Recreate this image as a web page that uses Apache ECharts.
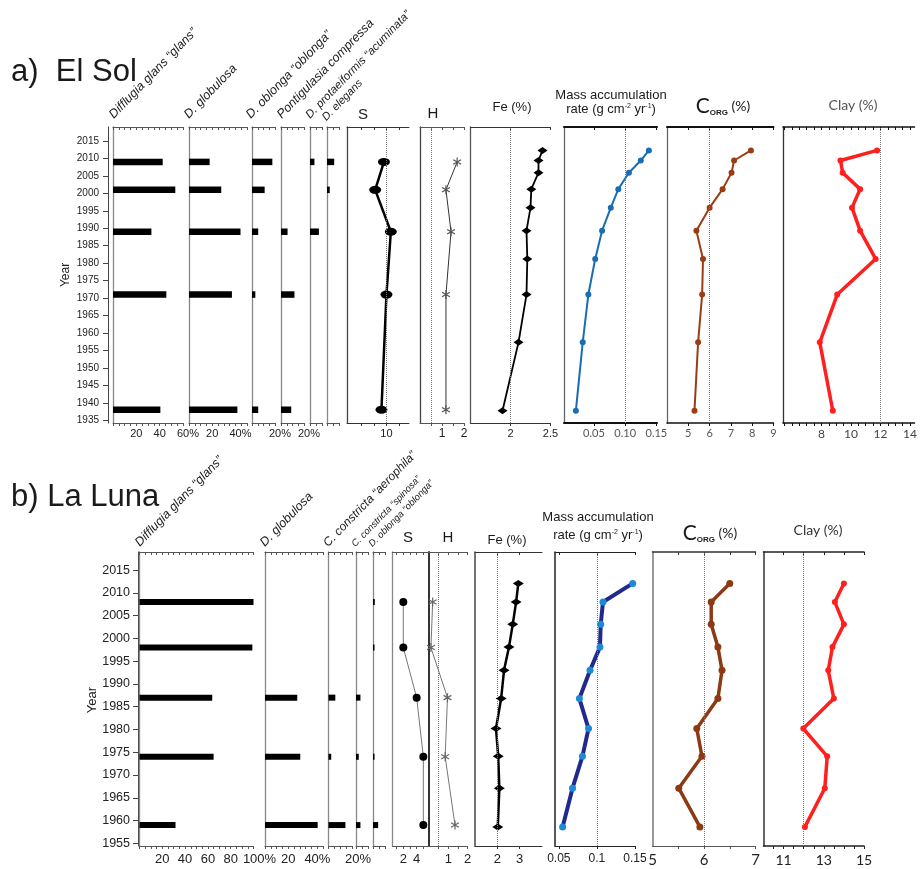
<!DOCTYPE html>
<html><head><meta charset="utf-8">
<script src="https://cdn.jsdelivr.net/npm/echarts@6/dist/echarts.min.js"></script>
<style>html,body{margin:0;padding:0;background:#fff}#c{width:920px;height:869px}</style>
</head><body><div id="c"></div><script>
// ================= DATA =================
// --- a) El Sol : testate amoebae (% abundance) ---
const solTaxaYears       = [2009, 2001, 1989, 1971, 1938];
const solDifflugiaGlans  = [42.6, 53.4, 32.9, 45.7, 40.6];
const solDGlobulosa      = [17.8, 27.8, 44.4, 37.0, 41.7];
const solDOblonga        = [17.7, 11.0, 5.4, 2.9, 5.4];
const solPontigulasia    = [0, 0, 5.7, 11.7, 8.9];
const solDProtaeiformis  = [3.7, 0, 7.4, 0, 0];
const solDElegans        = [6.0, 2.3, 0, 0, 0];
const solS               = [9.6, 8.2, 10.7, 10.0, 9.2];
const solH               = [1.69, 1.18, 1.41, 1.18, 1.18];
// --- a) El Sol : sediment geochemistry ---
const solCoreYears = [2012.3, 2009.4, 2005.9, 2001.2, 1995.9, 1989.3, 1981.2, 1971.0, 1957.3, 1937.7];
const solFe        = [2.40, 2.35, 2.35, 2.26, 2.25, 2.20, 2.21, 2.20, 2.10, 1.90];
const solMar       = [0.138, 0.125, 0.106, 0.089, 0.077, 0.063, 0.052, 0.041, 0.032, 0.021];
const solCorg      = [7.94, 7.15, 7.03, 6.61, 6.00, 5.38, 5.69, 5.65, 5.46, 5.29];
const solClay      = [11.77, 9.29, 9.44, 10.62, 10.07, 10.62, 11.67, 9.07, 7.89, 8.77];

// --- b) La Luna : testate amoebae ---
const lunaTaxaYears      = [2008, 1998, 1987, 1974, 1959];
const lunaDifflugiaGlans = [100, 99, 63.8, 65.0, 31.6];
const lunaDGlobulosa     = [0, 0, 27.8, 30.4, 45.4];
const lunaCAerophila     = [0, 0, 5.8, 2.3, 14.4];
const lunaCSpinosa       = [0, 0, 3.7, 2.3, 3.7];
const lunaDOblonga       = [1.5, 0.8, 0, 1.0, 4.3];
const lunaS              = [2, 2, 4, 5, 5];
const lunaH              = [0.19, 0.10, 0.96, 0.84, 1.35];
// --- b) La Luna : sediment geochemistry ---
const lunaCoreYears = [2012.1, 2008.0, 2003.1, 1998.1, 1993.0, 1986.8, 1980.2, 1974.1, 1967.1, 1958.6];
const lunaFe        = [2.94, 2.84, 2.69, 2.52, 2.30, 2.17, 1.94, 2.04, 2.09, 2.02];
const lunaMar       = [0.147, 0.108, 0.105, 0.104, 0.091, 0.077, 0.089, 0.081, 0.068, 0.055];
const lunaCorg      = [6.50, 6.14, 6.14, 6.27, 6.35, 6.27, 5.86, 5.96, 5.51, 5.92];
const lunaClay      = [14.0, 13.55, 14.0, 13.43, 13.22, 13.5, 11.98, 13.17, 13.05, 12.06];

// --- tick labels ---
const solYearLabels  = ['1935','1940','1945','1950','1955','1960','1965','1970','1975','1980','1985','1990','1995','2000','2005','2010','2015'];
const lunaYearLabels = ['1955','1960','1965','1970','1975','1980','1985','1990','1995','2000','2005','2010','2015'];
const solDifflugiaLabels = ['20','40','60%'];
const solGlobulosaLabels = ['20','40%'];
const solOblongaLabels   = ['20%'];
const solPontiLabels     = ['20%'];
const solSLabels   = ['10'];
const solHLabels   = ['1','2'];
const solFeLabels  = ['2','2.5'];
const solMarLabels = ['0.05','0.10','0.15'];
const solCorgLabels= ['5','6','7','8','9'];
const solClayLabels= ['8','10','12','14'];
const lunaDifflugiaLabels = ['20','40','60','80','100%'];
const lunaGlobulosaLabels = ['20','40%'];
const lunaAerophilaLabels = ['20%'];
const lunaSLabels   = ['2','4'];
const lunaHLabels   = ['1','2'];
const lunaFeLabels  = ['2','3'];
const lunaMarLabels = ['0.05','0.1','0.15'];
const lunaCorgLabels= ['5','6','7'];
const lunaClayLabels= ['11','13','15'];

// ================= BUILD =================
const FONT = "'Liberation Sans', Arial, sans-serif";
const CAL = "Lato, 'Open Sans', sans-serif";
const grids = [], xAxes = [], yAxes = [], series = [], graphics = [];

function range(a, b, s) { const r = []; for (let v = a; v <= b + 1e-9; v += s) r.push(+v.toFixed(6)); return r; }
function labelMap(labels) { const m = {}; labels.forEach(t => { m[Math.round(parseFloat(t) * 1e4)] = t; }); return m; }

function addYearAxis(c) {
  const gi = grids.length;
  grids.push({ left: c.left, top: c.top, width: 1, height: c.height });
  xAxes.push({ gridIndex: gi, type: 'value', show: false, min: 0, max: 1 });
  const vals = c.labels.map(Number);
  yAxes.push({ gridIndex: gi, type: 'value', position: 'left', min: c.ymin, max: c.ymax,
    axisLine: { show: true, onZero: false, lineStyle: { color: '#444', width: 1 } },
    axisTick: { show: true, customValues: vals, length: c.tickLen, lineStyle: { color: '#444' } },
    axisLabel: { show: true, customValues: vals, formatter: v => String(Math.round(v)), fontSize: c.fontSize, color: '#222', fontFamily: FONT, margin: c.margin, showMinLabel: true, showMaxLabel: true, hideOverlap: false },
    splitLine: { show: false } });
}

function addPanel(c) {
  const gi = grids.length;
  grids.push({ left: c.left, top: c.top, width: c.width, height: c.height });
  const labels = (c.labels || []).filter(t => t.indexOf('%') < 0);
  const pctLabels = (c.labels || []).filter(t => t.indexOf('%') >= 0);
  const lm = labelMap(labels);
  const ticks = c.ticks || [];
  const topTicks = c.topTicks || ticks;
  const fs = c.fontSize || 11, ff = c.labelFont || FONT, col = c.labelColor || '#222';
  xAxes.push({ gridIndex: gi, type: 'value', position: 'bottom', min: c.min, max: c.max,
    axisLine: { show: true, onZero: false, lineStyle: { color: c.bottomColor || '#555', width: c.bottomWidth || 1 } },
    axisTick: { show: ticks.length > 0, customValues: ticks, length: c.tickLen || 3, inside: false, lineStyle: { color: c.bottomColor || '#555' } },
    axisLabel: { show: labels.length > 0, customValues: labels.map(t => parseFloat(t)),
      formatter: v => lm[Math.round(v * 1e4)] || '', fontSize: fs, color: col,
      fontFamily: ff, margin: c.labelMargin || 5, hideOverlap: false, showMinLabel: true, showMaxLabel: true },
    splitLine: { show: false } });
  const xi = xAxes.length - 1;
  if (pctLabels.length) {
    // percent labels: the number is centred on its tick, the "%" trails
    const pm = labelMap(pctLabels);
    xAxes.push({ gridIndex: gi, type: 'value', position: 'bottom', min: c.min, max: c.max,
      axisLine: { show: false }, axisTick: { show: false }, splitLine: { show: false },
      axisLabel: { show: true, customValues: pctLabels.map(t => parseFloat(t)),
        formatter: v => '{p|' + (pm[Math.round(v * 1e4)] || '') + '}',
        rich: { p: { fontSize: fs, fontFamily: ff, color: col, padding: [0, 0, 0, Math.round(fs * 0.89)] } },
        margin: c.labelMargin || 5, showMinLabel: true, showMaxLabel: true } });
  }
  xAxes.push({ gridIndex: gi, type: 'value', position: 'top', min: c.min, max: c.max,
    axisLine: { show: true, onZero: false, lineStyle: { color: c.topColor || '#555', width: c.topWidth || 1 } },
    axisTick: { show: topTicks.length > 0, customValues: topTicks, inside: true, length: c.topTickLen || 3, lineStyle: { color: c.topColor || '#555' } },
    axisLabel: { show: false }, splitLine: { show: false } });
  yAxes.push({ gridIndex: gi, type: 'value', position: 'left', min: c.ymin, max: c.ymax,
    axisLine: { show: true, onZero: false, lineStyle: { color: c.leftColor || '#888', width: c.leftWidth || 1.3 } },
    axisTick: { show: false }, axisLabel: { show: false }, splitLine: { show: false } });
  return { xi, yi: yAxes.length - 1 };
}

function addBars(p, years, vals, h) {
  series.push({ type: 'custom', xAxisIndex: p.xi, yAxisIndex: p.yi, silent: true,
    data: years.map((y, i) => [vals[i], y]), encode: { x: 0, y: 1 },
    renderItem: (params, api) => {
      const v = api.value(0), y = api.value(1);
      if (!v) return;
      const a = api.coord([0, y]), b = api.coord([v, y]);
      return { type: 'rect', shape: { x: a[0], y: a[1] - h / 2, width: Math.max(b[0] - a[0], 1.5), height: h }, style: { fill: '#000' } };
    } });
}

function addLine(p, years, vals, st) {
  const s = { type: 'line', xAxisIndex: p.xi, yAxisIndex: p.yi, silent: true,
    data: years.map((y, i) => [vals[i], y]),
    symbol: st.symbol, symbolSize: st.size, symbolKeepAspect: !!st.keep, showSymbol: true,
    lineStyle: { color: st.line, width: st.width },
    itemStyle: { color: st.fill, borderColor: st.border || st.fill, borderWidth: st.borderWidth || 0 },
    z: 3 };
  if (st.ref != null) s.markLine = { silent: true, symbol: 'none', label: { show: false },
    lineStyle: { type: 'dotted', color: '#777', width: 1 }, data: [{ xAxis: st.ref }] };
  series.push(s);
}

const ELLIPSE = 'path://M0,5a5,5 0 1,0 10,0a5,5 0 1,0 -10,0Z';
const ASTER = 'path://M5,0L5,10M0.67,2.5L9.33,7.5M0.67,7.5L9.33,2.5';

// ---------- El Sol ----------
const SOL = { top: 127, height: 296, ymin: 1934.2, ymax: 2019 };
addYearAxis({ left: 108, top: SOL.top, height: SOL.height, ymin: SOL.ymin, ymax: SOL.ymax, labels: solYearLabels, fontSize: 10, margin: 9, tickLen: 5 });
const sb1 = addPanel({ ...SOL, left: 113, width: 70, min: 0, max: 60, labels: solDifflugiaLabels, ticks: range(0, 60, 5) });
const sb2 = addPanel({ ...SOL, left: 189, width: 58, min: 0, max: 50, labels: solGlobulosaLabels, ticks: range(0, 50, 5) });
const sb3 = addPanel({ ...SOL, left: 252, width: 23, min: 0, max: 20, labels: solOblongaLabels, ticks: range(0, 20, 5) });
const sb4 = addPanel({ ...SOL, left: 281, width: 23, min: 0, max: 20, labels: solPontiLabels, ticks: range(0, 20, 5) });
const sb5 = addPanel({ ...SOL, left: 310, width: 12, min: 0, max: 10, ticks: range(0, 10, 5) });
const sb6 = addPanel({ ...SOL, left: 327, width: 12, min: 0, max: 10, ticks: range(0, 10, 5) });
addBars(sb1, solTaxaYears, solDifflugiaGlans, 6.5);
addBars(sb2, solTaxaYears, solDGlobulosa, 6.5);
addBars(sb3, solTaxaYears, solDOblonga, 6.5);
addBars(sb4, solTaxaYears, solPontigulasia, 6.5);
addBars(sb5, solTaxaYears, solDProtaeiformis, 6.5);
addBars(sb6, solTaxaYears, solDElegans, 6.5);
const sS = addPanel({ ...SOL, left: 347, width: 62, min: 3.7, max: 13.6, labels: solSLabels, ticks: [6, 8, 10, 12], leftColor: '#444', topColor: '#333', bottomColor: '#333' });
addLine(sS, solTaxaYears, solS, { symbol: ELLIPSE, size: [12, 8], line: '#000', width: 2.5, fill: '#000', ref: 10 });
const sH = addPanel({ ...SOL, left: 420, width: 44, min: 0, max: 2, labels: solHLabels, ticks: [0.5, 1, 1.5, 2], leftColor: '#444', fontSize: 12 });
addLine(sH, solTaxaYears, solH, { symbol: ASTER, size: 9, keep: true, line: '#333', width: 1, fill: 'transparent', border: '#555', borderWidth: 1.2, ref: 0.5 });
const sFe = addPanel({ ...SOL, left: 470.5, width: 80, min: 1.5, max: 2.5, labels: solFeLabels, ticks: [2, 2.5], leftColor: '#555', topColor: '#333', bottomColor: '#333', fontSize: 11 });
addLine(sFe, solCoreYears, solFe, { symbol: 'diamond', size: [10, 7], line: '#000', width: 1.8, fill: '#000', ref: 2 });
const sMar = addPanel({ ...SOL, left: 564, width: 93, min: 0.002, max: 0.151, labels: solMarLabels, ticks: [0.05, 0.1, 0.15], leftColor: '#666', topColor: '#111', topWidth: 2, bottomColor: '#111', bottomWidth: 2, labelFont: CAL, labelColor: '#555', fontSize: 11 });
addLine(sMar, solCoreYears, solMar, { symbol: 'circle', size: 6, line: '#1a6db3', width: 2, fill: '#1a6db3', ref: 0.1 });
const sCorg = addPanel({ ...SOL, left: 667, width: 106.5, min: 4, max: 9, labels: solCorgLabels, ticks: [5, 6, 7, 8, 9], leftColor: '#666', topColor: '#111', topWidth: 2, bottomColor: '#111', bottomWidth: 1.5, labelFont: CAL, labelColor: '#555', fontSize: 11 });
addLine(sCorg, solCoreYears, solCorg, { symbol: 'circle', size: 6, line: '#9a3d16', width: 2, fill: '#9a3d16', ref: 6 });
const sClay = addPanel({ ...SOL, left: 783, width: 133, min: 5.4, max: 14.3, labels: solClayLabels, ticks: range(5.5, 14, 0.5), leftColor: '#333', topColor: '#111', topWidth: 1.5, bottomColor: '#111', bottomWidth: 1.5, labelFont: CAL, labelColor: '#444', fontSize: 12 });
addLine(sClay, solCoreYears, solClay, { symbol: 'circle', size: 6, line: '#ff1f1f', width: 3.5, fill: '#ff1f1f', ref: 12 });

// ---------- La Luna ----------
const LUNA = { top: 552, height: 294, ymin: 1954.4, ymax: 2019 };
addYearAxis({ left: 138, top: LUNA.top, height: LUNA.height, ymin: LUNA.ymin, ymax: LUNA.ymax, labels: lunaYearLabels, fontSize: 12.5, margin: 8, tickLen: 5 });
const lb1 = addPanel({ ...LUNA, left: 139.5, width: 114, min: 0, max: 100, labels: lunaDifflugiaLabels, ticks: range(0, 100, 5), fontSize: 13, labelMargin: 7 });
const lb2 = addPanel({ ...LUNA, left: 265, width: 58, min: 0, max: 50, labels: lunaGlobulosaLabels, ticks: range(0, 50, 5), fontSize: 13, labelMargin: 7 });
const lb3 = addPanel({ ...LUNA, left: 328.5, width: 23.5, min: 0, max: 20, labels: lunaAerophilaLabels, ticks: range(0, 20, 5), fontSize: 13, labelMargin: 7 });
const lb4 = addPanel({ ...LUNA, left: 356, width: 12, min: 0, max: 10, ticks: range(0, 10, 5) });
const lb5 = addPanel({ ...LUNA, left: 373, width: 12, min: 0, max: 10, ticks: range(0, 10, 5) });
addBars(lb1, lunaTaxaYears, lunaDifflugiaGlans, 6);
addBars(lb2, lunaTaxaYears, lunaDGlobulosa, 6);
addBars(lb3, lunaTaxaYears, lunaCAerophila, 6);
addBars(lb4, lunaTaxaYears, lunaCSpinosa, 6);
addBars(lb5, lunaTaxaYears, lunaDOblonga, 6);
const lS = addPanel({ ...LUNA, left: 392.3, width: 36.7, min: 0.35, max: 5.85, labels: lunaSLabels, ticks: [1, 2, 3, 4, 5], fontSize: 13, labelMargin: 7 });
addLine(lS, lunaTaxaYears, lunaS, { symbol: 'circle', size: 8, line: '#777', width: 1, fill: '#000' });
const lH = addPanel({ ...LUNA, left: 429, width: 38.5, min: 0, max: 2, labels: lunaHLabels, ticks: [0.5, 1, 1.5, 2], leftColor: '#333', leftWidth: 2, fontSize: 13, labelMargin: 7 });
addLine(lH, lunaTaxaYears, lunaH, { symbol: ASTER, size: 9, keep: true, line: '#777', width: 1, fill: 'transparent', border: '#666', borderWidth: 1.2, ref: 0.5 });
const lFe = addPanel({ ...LUNA, left: 475, width: 67, min: 1, max: 4, labels: lunaFeLabels, ticks: [2, 3], leftColor: '#444', leftWidth: 1.5, topColor: '#333', bottomColor: '#333', fontSize: 13, labelMargin: 7 });
addLine(lFe, lunaCoreYears, lunaFe, { symbol: 'diamond', size: [11, 7], line: '#000', width: 2.5, fill: '#000', ref: 2 });
const lMar = addPanel({ ...LUNA, left: 555, width: 80, min: 0.045, max: 0.15, labels: lunaMarLabels, ticks: [0.05, 0.1, 0.15], leftColor: '#222', leftWidth: 1.5, topColor: '#222', bottomColor: '#222', fontSize: 12, labelMargin: 7 });
addLine(lMar, lunaCoreYears, lunaMar, { symbol: 'circle', size: 7, line: '#1f2a8c', width: 4, fill: '#1d8ad6', ref: 0.1 });
const lCorg = addPanel({ ...LUNA, left: 652.5, width: 103, min: 5, max: 7, labels: lunaCorgLabels, ticks: [5.5, 6, 6.5, 7], leftColor: '#777', leftWidth: 1.5, topColor: '#333', topWidth: 1.5, bottomColor: '#555', fontSize: 15, labelFont: CAL, labelColor: '#222', labelMargin: 7 });
addLine(lCorg, lunaCoreYears, lunaCorg, { symbol: 'circle', size: 7, line: '#8b3a14', width: 3.5, fill: '#8b3a14', ref: 6 });
const lClay = addPanel({ ...LUNA, left: 763.5, width: 100.5, min: 10, max: 15, labels: lunaClayLabels, ticks: range(10.5, 15, 0.5), topTicks: [11, 12, 13, 14, 15], leftColor: '#333', leftWidth: 1.5, topColor: '#222', topWidth: 1.5, bottomColor: '#222', bottomWidth: 1.5, fontSize: 14, labelFont: CAL, labelColor: '#222', labelMargin: 7 });
addLine(lClay, lunaCoreYears, lunaClay, { symbol: 'circle', size: 6, line: '#ff1f1f', width: 3.5, fill: '#ff1f1f', ref: 12 });

// ---------- texts ----------
function txt(x, y, t, o) {
  o = o || {};
  const el = { type: 'text', x, y, silent: true, z: 10,
    style: { text: t, fill: o.color || '#1a1a1a', fontSize: o.size || 12, fontFamily: o.font || FONT,
      fontStyle: o.italic ? 'italic' : 'normal', fontWeight: o.weight || 'normal',
      textAlign: o.align || 'center', textVerticalAlign: o.valign || 'middle',
      align: o.align || 'center', verticalAlign: o.valign || 'middle' } };
  if (o.rich) el.style.rich = o.rich;
  if (o.rot) el.rotation = o.rot;
  graphics.push(el);
}
const ROT = 0.8;
txt(11, 72, 'a)  El Sol', { size: 31, align: 'left' });
txt(11, 497, 'b) La Luna', { size: 31, align: 'left' });
txt(66, 275, 'Year', { size: 12, rot: Math.PI / 2 });
txt(92, 700, 'Year', { size: 13, rot: Math.PI / 2 });
const solTaxaNames = [[116, 121, 'Difflugia glans “glans”', 12.5], [191, 121, 'D. globulosa', 12.5], [253, 121, 'D. oblonga “oblonga”', 12.5],
  [284, 121, 'Pontigulasia compressa', 12.5], [312, 121, 'D. protaeiformis “acuminata”', 11.5], [328, 123, 'D. elegans', 11]];
solTaxaNames.forEach(a => txt(a[0], a[1], a[2], { size: a[3], italic: true, align: 'left', valign: 'bottom', rot: ROT }));
const lunaTaxaNames = [[142, 549, 'Difflugia glans “glans”', 12.5], [267, 549, 'D. globulosa', 12.5], [330, 549, 'C. constricta “aerophila”', 12],
  [357, 549, 'C. constricta “spinosa”', 9.5], [374, 549, 'D. oblonga “oblonga”', 9.5]];
lunaTaxaNames.forEach(a => txt(a[0], a[1], a[2], { size: a[3], italic: true, align: 'left', valign: 'bottom', rot: ROT }));
txt(363, 115, 'S', { size: 15 });
txt(433, 114, 'H', { size: 15 });
txt(512, 107, 'Fe (%)', { size: 13 });
txt(611, 95, 'Mass accumulation', { size: 13 });
txt(611, 109, 'rate (g cm{sup|-2} yr{sup|-1})', { size: 13, rich: { sup: { fontSize: 7, verticalAlign: 'top', fontFamily: FONT } } });
txt(723, 106, '{c|C}{s|ORG}{n| (%)}', { size: 14, rich: { c: { fontSize: 21, fontFamily: CAL }, s: { fontSize: 8, fontWeight: 'bold', verticalAlign: 'bottom', fontFamily: FONT }, n: { fontSize: 14, fontFamily: CAL } } });
txt(853, 105, 'Clay (%)', { size: 14, font: CAL, color: '#555' });
txt(408, 538, 'S', { size: 15 });
txt(448, 538, 'H', { size: 15 });
txt(507, 540, 'Fe (%)', { size: 13 });
txt(598, 517, 'Mass accumulation', { size: 13 });
txt(598, 535, 'rate (g cm{sup|-2} yr{sup|-1})', { size: 13, rich: { sup: { fontSize: 7, verticalAlign: 'top', fontFamily: FONT } } });
txt(710, 533, '{c|C}{s|ORG}{n| (%)}', { size: 14, rich: { c: { fontSize: 21, fontFamily: CAL }, s: { fontSize: 8, fontWeight: 'bold', verticalAlign: 'bottom', fontFamily: FONT }, n: { fontSize: 14, fontFamily: CAL } } });
txt(818, 530, 'Clay (%)', { size: 14, font: CAL, color: '#333' });

const chart = echarts.init(document.getElementById('c'));
chart.setOption({ animation: false, backgroundColor: '#fff', grid: grids, xAxis: xAxes, yAxis: yAxes, series, graphic: graphics });
</script></body></html>
